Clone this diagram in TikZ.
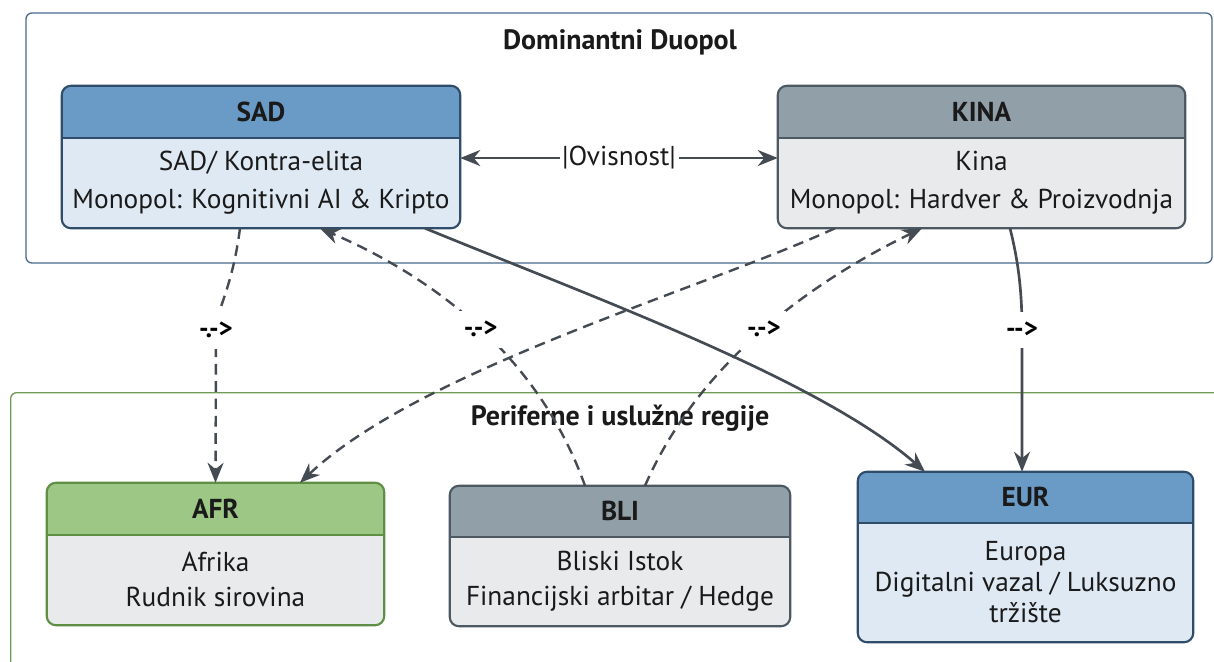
\documentclass[tikz,border=0pt]{standalone}
\usepackage{fontspec}
\setmainfont{PT Sans}
\usetikzlibrary{arrows.meta,calc}
\definecolor{blue-head}{HTML}{6A9AC6}
\definecolor{blue-body}{HTML}{DFE9F4}
\definecolor{blue-line}{HTML}{2F4D6B}
\definecolor{gray-head}{HTML}{919FA8}
\definecolor{gray-body}{HTML}{E9EAEB}
\definecolor{gray-line}{HTML}{4C5963}
\definecolor{green-head}{HTML}{9CC785}
\definecolor{green-body}{HTML}{E9EAEB}
\definecolor{green-line}{HTML}{5E8F44}
\definecolor{topframe}{HTML}{46698A}
\definecolor{botframe}{HTML}{6F9A55}
\definecolor{edgecol}{HTML}{454B52}
\definecolor{txt}{HTML}{1A1A1A}
\tikzset{
  boxbase/.style={inner sep=0pt, rounded corners=7pt},
  headtxt/.style={font=\fontsize{20.5}{24}\selectfont\bfseries, text=txt},
  bodytxt/.style={font=\fontsize{20.5}{26.5}\selectfont, text=txt, align=center},
  titletxt/.style={font=\fontsize{21}{24}\selectfont\bfseries, text=txt},
  lbl/.style={font=\fontsize{20}{22}\selectfont\bfseries, text=black, fill=white, inner xsep=4pt, inner ysep=8pt},
  dashedge/.style={draw=edgecol, line width=1.8pt, dash pattern=on 8pt off 5pt, -{Stealth[length=15pt,width=12pt]}},
  solidedge/.style={draw=edgecol, line width=2pt, -{Stealth[length=15pt,width=12pt]}},
}
% #1 name, #2 center, #3 width px, #4 height px, #5 header px, #6 scheme, #7 header, #8 body
\newcommand\regbox[8]{%
  \node[boxbase, fill=#6-body, minimum width=#3*0.75pt, minimum height=#4*0.75pt] (#1) at #2 {};
  \begin{scope}
    \clip[rounded corners=7pt] (#1.north west) rectangle (#1.south east);
    \fill[#6-head] (#1.north west) rectangle ($(#1.north east)+(0,#5)$);
  \end{scope}
  \draw[#6-line, line width=1.6pt] ($(#1.north west)+(0,#5)$) -- ($(#1.north east)+(0,#5)$);
  \draw[#6-line, line width=1.6pt, rounded corners=7pt] (#1.north west) rectangle (#1.south east);
  \node[headtxt] (#1-h) at ($(#1.north)+(0,{#5/2})$) {#7};
  \node[bodytxt] (#1-b) at ($(#1.north)+(0,{(#4+#5)/2})$) {#8};
}
\begin{document}
\begin{tikzpicture}[x=0.75pt, y=-0.75pt]
\useasboundingbox (0,0) rectangle (1214,661);
% containers
\node[draw=topframe, line width=1pt, rounded corners=4.5pt, minimum width=1186*0.75pt, minimum height=250*0.75pt, inner sep=0pt] (dom) at (619,138) {};
\node[titletxt] (domt) at (620,42) {Dominantni Duopol};
\node[draw=botframe, line width=1pt, rounded corners=4.5pt, minimum width=1240*0.75pt, minimum height=300*0.75pt, inner sep=0pt, anchor=north west] (per) at (10,392) {};
\node[titletxt] (pert) at (620,418) {Periferne i uslužne regije};

% boxes
\regbox{sad}{(261,157)}{398}{142}{52}{blue}{SAD}{SAD/ Kontra-elita\\[1.5pt]Monopol: Kognitivni AI \& Kripto}
\regbox{kina}{(981.5,157)}{407}{142}{52}{gray}{KINA}{Kina\\[1.5pt]Monopol: Hardver \& Proizvodnja}
\regbox{afr}{(215.5,554)}{337}{142}{52}{green}{AFR}{Afrika\\Rudnik sirovina}
\regbox{bli}{(620,556)}{340}{140}{51}{gray}{BLI}{Bliski Istok\\Financijski arbitar / Hedge}
\regbox{eur}{(1025.5,557)}{335}{170}{51}{blue}{EUR}{Europa\\[-3pt]Digitalni vazal / Luksuzno\\[-3pt]tržište}

% connectors
\draw[draw=edgecol, line width=2pt, {Stealth[length=15pt,width=12pt]}-{Stealth[length=15pt,width=12pt]}] (sad.east |- 0,158) -- node[fill=white, font=\fontsize{20.5}{24}\selectfont, text=txt, inner sep=2pt] (ov) {|Ovisnost|} (kina.west |- 0,158);

\coordinate (l1) at (216,330);
\coordinate (l6) at (1022,330);
\draw[dashedge] ($(sad.south)+(-21,0)$) .. controls (232,290) and (216,310) .. (l1) -- (afr.north);
\draw[dashedge] ($(kina.south)+(-146.5,0)$) .. controls (700,290) and (420,370) .. ($(afr.north)+(84.5,0)$);
\draw[dashedge] ($(bli.north)+(-35,0)$) .. controls (540,360) and (440,280) .. node[lbl, pos=0.5] (l2) {-.->} ($(sad.south)+(59,0)$);
\draw[dashedge] ($(bli.north)+(25,0)$) .. controls (700,360) and (815,280) .. node[lbl, pos=0.5] (l3) {-.->} ($(kina.south)+(-59.5,0)$);
\draw[solidedge] ($(sad.south)+(164,0)$) .. controls (600,300) and (820,380) .. ($(eur.north)+(-100.5,0)$);
\draw[solidedge] ($(kina.south)+(28.5,0)$) .. controls (1018,260) and (1022,290) .. (l6) -- (eur.north -| l6);
\node[lbl] (l1t) at (l1) {-.->};
\node[lbl] (l6t) at (l6) {-{}->};
\end{tikzpicture}
\end{document}
